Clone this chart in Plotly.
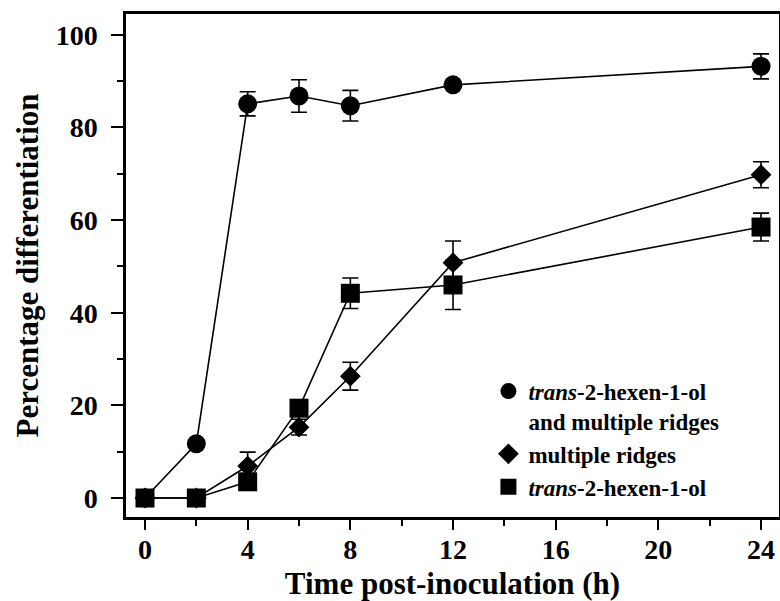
import plotly.graph_objects as go

hours = [0, 2, 4, 6, 8, 12, 24]

both_vals = [0, 11.7, 85.1, 86.8, 84.7, 89.2, 93.2]
both_err = [0, 0, 2.6, 3.5, 3.3, 0, 2.7]

ridges_vals = [0, 0, 6.9, 15.3, 26.3, 50.8, 69.8]
ridges_err = [0, 0, 3.0, 1.7, 3.0, 4.7, 2.8]

hexenol_vals = [0, 0, 3.5, 19.4, 44.2, 46.0, 58.5]
hexenol_err = [0, 0, 0, 0, 3.3, 5.3, 3.0]

series = [
    ("<i>trans</i>-2-hexen-1-ol<br>and multiple ridges", both_vals, both_err, "circle", 19),
    ("multiple ridges", ridges_vals, ridges_err, "diamond", 16),
    ("<i>trans</i>-2-hexen-1-ol", hexenol_vals, hexenol_err, "square", 19),
]

FONT = "Liberation Serif"
fig = go.Figure()

for name, vals, errs, sym, sz in series:
    fig.add_trace(go.Scatter(
        x=hours, y=vals, mode="lines+markers", showlegend=False,
        line=dict(color="black", width=1.6),
        marker=dict(symbol=sym, size=sz, color="black"),
        error_y=dict(type="data", array=errs, visible=True, color="black",
                     thickness=1.6, width=8),
    ))

for name, vals, errs, sym, sz in series:
    fig.add_trace(go.Scatter(
        x=[None], y=[None], mode="markers", name=name,
        marker=dict(symbol=sym, size=sz, color="black"),
    ))

axis_common = dict(
    showline=True, linecolor="black", linewidth=2.5, mirror=True,
    ticks="outside", tickwidth=2, tickcolor="black",
    showgrid=False, zeroline=False, automargin=False,
    tickfont=dict(family=FONT, size=28, color="black", weight="bold"),
)

fig.update_xaxes(
    range=[-0.74, 24.7], tickvals=[0, 4, 8, 12, 16, 20, 24], ticklen=10,
    minor=dict(tickvals=[2, 6, 10, 14, 18, 22], ticklen=6, tickwidth=2,
               tickcolor="black", ticks="outside"),
    ticklabelstandoff=-4,
    title=dict(text="Time post-inoculation (h)", standoff=14,
               font=dict(family=FONT, size=31, color="black", weight="bold")),
    **axis_common,
)
fig.update_yaxes(
    range=[-4.1, 104.5], tickvals=[0, 20, 40, 60, 80, 100], ticklen=12,
    minor=dict(tickvals=[10, 30, 50, 70, 90], ticklen=6, tickwidth=2,
               tickcolor="black", ticks="outside"),
    ticklabelstandoff=8,
    title=dict(text="Percentage differentiation", standoff=8,
               font=dict(family=FONT, size=31, color="black", weight="bold")),
    **axis_common,
)

fig.update_layout(
    width=780, height=601,
    margin=dict(l=126, r=1, t=14, b=84),
    paper_bgcolor="white", plot_bgcolor="white",
    legend=dict(x=0.555, y=0.293, xanchor="left", yanchor="top",
                bgcolor="rgba(0,0,0,0)", valign="top", tracegroupgap=0,
                font=dict(family=FONT, size=23, color="black", weight="bold")),
)

fig.write_html("out.html", config={"displayModeBar": False},
               post_script="document.body.style.margin='0px';document.body.style.overflow='hidden';")
